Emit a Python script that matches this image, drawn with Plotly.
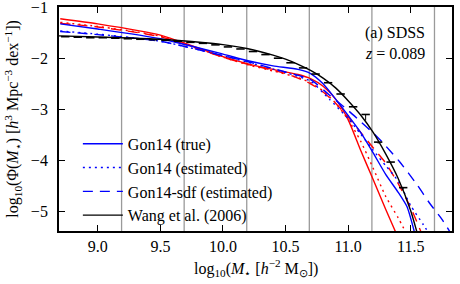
import plotly.graph_objects as go

# ---------------- data ----------------
bin_edges = [9.19, 9.69, 10.19, 10.69, 11.19, 11.69]

wang_x = [8.69, 9.0, 9.25, 9.5, 9.75, 10.0, 10.2, 10.4, 10.5, 10.6, 10.7, 10.8, 10.9, 11.0, 11.1, 11.2, 11.3, 11.4, 11.5, 11.55]
wang_y = [-1.565, -1.585, -1.605, -1.63, -1.675, -1.735, -1.815, -1.94, -2.02, -2.12, -2.24, -2.39, -2.58, -2.83, -3.11, -3.45, -3.87, -4.35, -4.98, -5.40]

pts_x = [8.74, 8.84, 8.94, 9.04, 9.14, 9.24, 9.34, 9.44, 9.54, 9.64, 9.74, 9.84, 9.94, 10.04,
         10.14, 10.24, 10.34, 10.44, 10.54, 10.64, 10.74, 10.84, 10.94, 11.04, 11.14, 11.24, 11.34, 11.44]
pts_y = [-1.58, -1.59, -1.60, -1.60, -1.61, -1.62, -1.63, -1.64, -1.65, -1.67, -1.69, -1.71, -1.74, -1.78,
         -1.82, -1.87, -1.93, -2.00, -2.09, -2.19, -2.31, -2.48, -2.70, -2.95, -3.10, -3.64, -4.03, -4.53]
pts_err_plus = [0.0] * 24 + [0.0, 0.0, 0.0, 0.0]
pts_err_minus = [0.0] * 24 + [0.12, 0.03, 0.03, 0.04]

blue_true_x = [8.70, 9.0, 9.5, 10.0, 10.2, 10.4, 10.6, 10.7, 10.8, 10.9, 11.0, 11.1, 11.2, 11.3, 11.4, 11.47, 11.53]
blue_true_y = [-1.33, -1.43, -1.62, -1.92, -2.05, -2.15, -2.22, -2.30, -2.50, -2.80, -3.12, -3.45, -3.85, -4.27, -4.62, -4.90, -5.40]

blue_est_x = [8.70, 9.0, 9.5, 10.0, 10.2, 10.5, 10.7, 10.85, 11.0, 11.1, 11.2, 11.3, 11.4, 11.5, 11.6, 11.64]
blue_est_y = [-1.47, -1.53, -1.67, -1.95, -2.08, -2.28, -2.45, -2.80, -3.18, -3.48, -3.80, -4.10, -4.40, -4.88, -5.25, -5.40]

blue_sdf_x = [8.70, 9.0, 9.5, 10.0, 10.2, 10.5, 10.7, 10.85, 11.0, 11.1, 11.2, 11.28, 11.41, 11.55, 11.65, 11.75, 11.81]
blue_sdf_y = [-1.48, -1.54, -1.67, -1.95, -2.07, -2.27, -2.42, -2.72, -3.02, -3.24, -3.46, -3.66, -4.02, -4.47, -4.83, -5.15, -5.38]

red_true_x = [8.70, 9.0, 9.5, 10.0, 10.2, 10.4, 10.6, 10.7, 10.8, 10.9, 11.0, 11.1, 11.2, 11.3, 11.38]
red_true_y = [-1.23, -1.33, -1.55, -1.97, -2.11, -2.22, -2.32, -2.40, -2.55, -2.80, -3.20, -3.80, -4.37, -4.95, -5.40]

red_est_x = [8.70, 9.0, 9.5, 10.0, 10.2, 10.4, 10.6, 10.7, 10.8, 10.9, 11.0, 11.1, 11.2, 11.3, 11.4, 11.46]
red_est_y = [-1.30, -1.38, -1.57, -1.98, -2.13, -2.25, -2.38, -2.48, -2.64, -2.88, -3.20, -3.62, -4.15, -4.70, -5.12, -5.40]

red_sdf_x = [8.70, 9.0, 9.5, 10.0, 10.2, 10.5, 10.7, 10.8, 10.9, 11.0, 11.1, 11.2, 11.3, 11.4, 11.5, 11.58]
red_sdf_y = [-1.32, -1.39, -1.58, -1.98, -2.12, -2.30, -2.50, -2.66, -2.88, -3.15, -3.45, -3.75, -4.05, -4.45, -4.92, -5.38]

x_ticks = [9.0, 9.5, 10.0, 10.5, 11.0, 11.5]
y_ticks = [-1, -2, -3, -4, -5]

FONT = "Liberation Serif"
FS = 16
BLUE = "#0000ff"
RED = "#ff0000"

fig = go.Figure()

for e in bin_edges:
    fig.add_vline(x=e, line=dict(color="#9a9a9a", width=1.3), layer="below")

def curve(x, y, color, dash, name, show):
    fig.add_trace(go.Scatter(x=x, y=y, mode="lines", name=name, showlegend=show,
                             line=dict(color=color, width=1.4, dash=dash, shape="spline", smoothing=0.6)))

curve(red_true_x, red_true_y, RED, "solid", "red true", False)
curve(red_est_x, red_est_y, RED, "2px,4px", "red est", False)
curve(red_sdf_x, red_sdf_y, RED, "10px,7px", "red sdf", False)
curve(blue_true_x, blue_true_y, BLUE, "solid", "Gon14 (true)", True)
curve(blue_est_x, blue_est_y, BLUE, "2px,4px", "Gon14 (estimated)", True)
curve(blue_sdf_x, blue_sdf_y, BLUE, "10px,7px", "Gon14-sdf (estimated)", True)
curve(wang_x, wang_y, "black", "solid", "Wang et al. (2006)", True)

fig.add_trace(go.Scatter(x=pts_x, y=pts_y, mode="markers", showlegend=False,
                         marker=dict(symbol="line-ew-open", size=6, color="black",
                                     line=dict(color="black", width=1.6)),
                         error_y=dict(type="data", symmetric=False, array=pts_err_plus,
                                      arrayminus=pts_err_minus, color="black", thickness=1, width=0)))

fig.add_annotation(x=11.63, y=-1.50, xref="x", yref="y", text="(a) SDSS", showarrow=False,
                   xanchor="right", yanchor="middle", font=dict(family=FONT, size=FS, color="black"))
fig.add_annotation(x=11.63, y=-1.90, xref="x", yref="y", text="<i>z</i> = 0.089", showarrow=False,
                   xanchor="right", yanchor="middle", font=dict(family=FONT, size=FS, color="black"))

# axis titles as annotations for precise placement
fig.add_annotation(x=0.5, y=-0.165, xref="paper", yref="paper", xanchor="center", yanchor="middle",
                   text="log<sub>10</sub>(<i>M</i><sub>⋆</sub> [<i>h</i><sup>−2</sup> M<sub>⊙</sub>])",
                   showarrow=False, font=dict(family=FONT, size=FS, color="black"))
fig.add_annotation(x=-0.118, y=0.5, xref="paper", yref="paper", xanchor="center", yanchor="middle",
                   textangle=-90,
                   text="log<sub>10</sub>(Φ(<i>M</i><sub>⋆</sub>) [<i>h</i><sup>3</sup> Mpc<sup>−3</sup> dex<sup>−1</sup>])",
                   showarrow=False, font=dict(family=FONT, size=FS, color="black"))

axis_common = dict(showgrid=False, zeroline=False, showline=True, linecolor="black", linewidth=1.8,
                   mirror="ticks", ticks="inside", ticklen=6, tickwidth=1.2, tickcolor="black",
                   ticklabeloverflow="allow",
                   tickfont=dict(family=FONT, size=FS, color="black"))

fig.update_xaxes(range=[8.69, 11.83], tickvals=x_ticks, ticktext=[f"{v:.1f}" for v in x_ticks],
                 ticklabelstandoff=0, **axis_common)
fig.update_yaxes(range=[-5.377, -1.0], tickvals=y_ticks, ticktext=[f"−{abs(v)}" for v in y_ticks],
                 ticklabelstandoff=6, **axis_common)

fig.update_layout(
    width=460, height=284,
    margin=dict(l=59, r=8, t=7, b=53, autoexpand=False),
    paper_bgcolor="white", plot_bgcolor="white",
    font=dict(family=FONT, size=FS, color="black"),
    legend=dict(x=0.048, y=0.465, xanchor="left", yanchor="top", bgcolor="rgba(0,0,0,0)",
                font=dict(family=FONT, size=FS, color="black"), itemwidth=40,
                tracegroupgap=0),
)

fig.write_html("out.html", config={"displayModeBar": False},
               post_script="document.body.style.margin='0px';")
